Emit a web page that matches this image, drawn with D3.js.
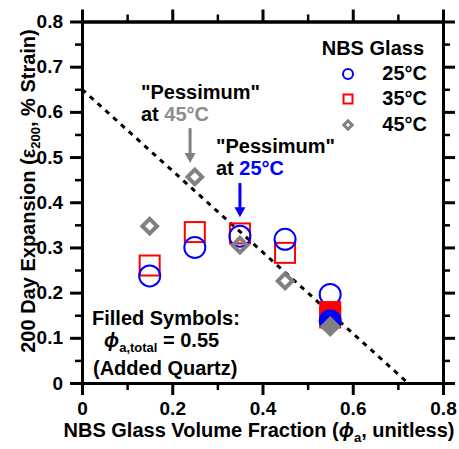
<!DOCTYPE html>
<html>
<head>
<meta charset="utf-8">
<script src="https://cdn.jsdelivr.net/npm/d3@7"></script>
<style>
  body { margin: 0; background: #fff; }
  text { font-family: "Liberation Sans", Arial, sans-serif; font-weight: bold; }
</style>
</head>
<body>
<div id="svgcontainer"></div>
<script>
var width = 459, height = 449;

// data
var fraction = [0.15, 0.25, 0.35, 0.45, 0.55];
var open25 = [0.237, 0.300, 0.325, 0.318, 0.196];
var open35 = [0.260, 0.334, 0.331, 0.288];
var open45 = [0.347, 0.456, 0.305, 0.226];
var filledX = 0.55;
var filled25 = [0.138];
var filled35 = [0.157, 0.145];
var filled45 = [0.125];
var xTicks = [0, 0.2, 0.4, 0.6, 0.8];
var yTicks = [0, 0.1, 0.2, 0.3, 0.4, 0.5, 0.6, 0.7, 0.8];
var trend = [[0, 0.65], [0.7222, 0]];

var blue = "#0000ff", red = "#ff0000", gray = "#808080", grayText = "#8c8c8c";

var svg = d3.select("#svgcontainer")
    .append("svg")
    .attr("width", width)
    .attr("height", height);

var x = d3.scaleLinear().domain([0, 0.8]).range([82, 443]);
var y = d3.scaleLinear().domain([0, 0.8]).range([383, 21.5]);

var fmt = function(d){ return d === 0 ? "0" : d3.format(".1f")(d); };

function styleAxis(g, w){
  g.selectAll("path").attr("stroke", "#000").attr("stroke-width", 3);
  g.selectAll("line").attr("stroke", "#000").attr("stroke-width", w);
  g.selectAll("text").attr("fill", "#000").style("font-size", "19px").style("font-family", "Liberation Sans, Arial, sans-serif").style("font-weight", "bold");
}

// minor ticks first
var xMinor = d3.range(0.1, 0.8, 0.2);
var yMinor = d3.range(0.05, 0.8, 0.1);

svg.append("g").attr("transform", "translate(0," + y(0) + ")")
  .call(d3.axisBottom(x).tickValues(xMinor).tickSize(7).tickSizeOuter(0).tickFormat(""))
  .call(styleAxis, 2.5);
svg.append("g").attr("transform", "translate(0," + y(0.8) + ")")
  .call(d3.axisTop(x).tickValues(xMinor).tickSize(7).tickSizeOuter(0).tickFormat(""))
  .call(styleAxis, 2.5);
svg.append("g").attr("transform", "translate(" + x(0) + ",0)")
  .call(d3.axisLeft(y).tickValues(yMinor).tickSize(7).tickSizeOuter(0).tickFormat(""))
  .call(styleAxis, 2.5);
svg.append("g").attr("transform", "translate(" + x(0.8) + ",0)")
  .call(d3.axisRight(y).tickValues(yMinor).tickSize(7).tickSizeOuter(0).tickFormat(""))
  .call(styleAxis, 2.5);

// major ticks
svg.append("g").attr("transform", "translate(0," + y(0) + ")")
  .call(d3.axisBottom(x).tickValues(xTicks).tickSize(12).tickSizeOuter(0).tickPadding(7).tickFormat(fmt))
  .call(styleAxis, 3);
svg.append("g").attr("transform", "translate(0," + y(0.8) + ")")
  .call(d3.axisTop(x).tickValues(xTicks).tickSize(12).tickSizeOuter(0).tickFormat(""))
  .call(styleAxis, 3);
svg.append("g").attr("transform", "translate(" + x(0) + ",0)")
  .call(d3.axisLeft(y).tickValues(yTicks).tickSize(12).tickSizeOuter(0).tickPadding(7).tickFormat(fmt))
  .call(styleAxis, 3);
svg.append("g").attr("transform", "translate(" + x(0.8) + ",0)")
  .call(d3.axisRight(y).tickValues(yTicks).tickSize(12).tickSizeOuter(0).tickFormat(""))
  .call(styleAxis, 3);

// trend line
svg.append("line")
  .attr("x1", x(trend[0][0])).attr("y1", y(trend[0][1]))
  .attr("x2", x(trend[1][0])).attr("y2", y(trend[1][1]))
  .style("stroke", "#000")
  .style("stroke-width", 3)
  .style("stroke-dasharray", "5,5.5");

// markers
function drawSquare(cx, cy, s, filled){
  svg.append("rect")
    .attr("x", cx - s/2).attr("y", cy - s/2)
    .attr("width", s).attr("height", s)
    .style("fill", filled ? red : "none")
    .style("stroke", red)
    .style("stroke-width", 2);
}
function drawCircle(cx, cy, r, filled){
  svg.append("circle")
    .attr("cx", cx).attr("cy", cy).attr("r", r)
    .style("fill", filled ? blue : "none")
    .style("stroke", blue)
    .style("stroke-width", 2);
}
function drawDiamond(cx, cy, d, w, filled){
  svg.append("path")
    .attr("d", "M" + cx + "," + (cy - d) + "L" + (cx + d) + "," + cy + "L" + cx + "," + (cy + d) + "L" + (cx - d) + "," + cy + "Z")
    .style("fill", filled ? gray : "none")
    .style("stroke", gray)
    .style("stroke-width", w);
}

open35.forEach(function(v, i){ drawSquare(x(fraction[i]), y(v), 20, false); });
open25.forEach(function(v, i){ drawCircle(x(fraction[i]), y(v), 10.5, false); });
open45.forEach(function(v, i){ drawDiamond(x(fraction[i]), y(v), 7.3, 4, false); });
filled35.forEach(function(v){ drawSquare(x(filledX), y(v), 20, true); });
filled25.forEach(function(v){ drawCircle(x(filledX), y(v), 10.5, true); });
filled45.forEach(function(v){ drawDiamond(x(filledX), y(v), 9.5, 1.5, true); });

// legend
svg.append("text").attr("x", 424).attr("y", 55).attr("text-anchor", "end").style("font-size", "20px").text("NBS Glass");
var legY = [74, 99, 125];
var legLabels = ["25°C", "35°C", "45°C"];
legLabels.forEach(function(t, i){
  svg.append("text").attr("x", 427).attr("y", legY[i] + 6).attr("text-anchor", "end").style("font-size", "20px").text(t);
});
drawCircle(348, legY[0], 5, false);
drawSquare(348, legY[1], 9, false);
drawDiamond(348, legY[2], 4.2, 3, false);

// annotations
function arrow(xv, y1v, y2v, col){
  var xp = x(xv), ya = y(y1v), yb = y(y2v);
  svg.append("line").attr("x1", xp).attr("y1", ya).attr("x2", xp).attr("y2", yb - 8)
    .style("stroke", col).style("stroke-width", 3);
  svg.append("path")
    .attr("d", "M" + (xp - 5.5) + "," + (yb - 10) + "L" + (xp + 5.5) + "," + (yb - 10) + "L" + xp + "," + yb + "Z")
    .style("fill", col);
}
arrow(0.2395, 0.564, 0.487, gray);
arrow(0.350, 0.4425, 0.367, blue);

svg.append("text").attr("x", 141).attr("y", 99).style("font-size", "20px").text("\"Pessimum\"");
var a2 = svg.append("text").attr("x", 141).attr("y", 121).style("font-size", "20px");
a2.append("tspan").text("at ");
a2.append("tspan").style("fill", grayText).text("45°C");
svg.append("text").attr("x", 216).attr("y", 153).style("font-size", "20px").text("\"Pessimum\"");
var a4 = svg.append("text").attr("x", 216).attr("y", 175).style("font-size", "20px");
a4.append("tspan").text("at ");
a4.append("tspan").style("fill", blue).text("25°C");

svg.append("text").attr("x", 92).attr("y", 325).style("font-size", "20px").text("Filled Symbols:");
var ph = svg.append("text").attr("x", 104).attr("y", 347).style("font-size", "20px");
ph.append("tspan").style("font-style", "italic").text("ϕ");
ph.append("tspan").attr("dy", 5).style("font-size", "13px").text("a,total");
ph.append("tspan").attr("dy", -5).text(" = 0.55");
svg.append("text").attr("x", 93).attr("y", 375).style("font-size", "20px").text("(Added Quartz)");

// axis titles
var xt = svg.append("text").attr("x", 259).attr("y", 437).attr("text-anchor", "middle").style("font-size", "20px");
xt.append("tspan").text("NBS Glass Volume Fraction (");
xt.append("tspan").style("font-style", "italic").text("ϕ");
xt.append("tspan").attr("dy", 5).style("font-size", "13px").text("a");
xt.append("tspan").attr("dy", -5).text(", unitless)");

var yt = svg.append("text").attr("transform", "translate(35,191) rotate(-90)").attr("text-anchor", "middle").style("font-size", "20px");
yt.append("tspan").text("200 Day Expansion (ε");
yt.append("tspan").attr("dy", 5).style("font-size", "13px").text("200");
yt.append("tspan").attr("dy", -5).text(", % Strain)");
</script>
</body>
</html>
